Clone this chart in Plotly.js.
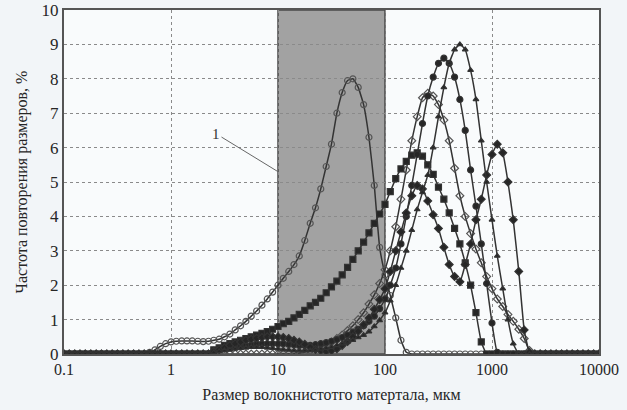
<!DOCTYPE html>
<html>
<head>
<meta charset="utf-8">
<script src="https://cdn.plot.ly/plotly-3.0.1.min.js"></script>
<style>
html,body{margin:0;padding:0;background:#f2f5f8;}
#chart{width:627px;height:410px;}
</style>
</head>
<body>
<div id="chart"></div>
<script>
// particle size, µm (20 points per decade, 0.1 .. 10000)
const sizes = [
  0.1,0.112,0.126,0.141,0.158,0.178,0.2,0.224,0.251,0.282,0.316,0.355,0.398,0.447,0.501,0.562,0.631,0.708,0.794,0.891,
  1,1.12,1.26,1.41,1.58,1.78,2,2.24,2.51,2.82,3.16,3.55,3.98,4.47,5.01,5.62,6.31,7.08,7.94,8.91,
  10,11.2,12.6,14.1,15.8,17.8,20,22.4,25.1,28.2,31.6,35.5,39.8,44.7,50.1,56.2,63.1,70.8,79.4,89.1,
  100,112,126,141,158,178,200,224,251,282,316,355,398,447,501,562,631,708,794,891,
  1000,1120,1260,1410,1580,1780,2000,2240,2510,2820,3160,3550,3980,4470,5010,5620,6310,7080,7940,8910,10000];

// frequency, % (curve "1" = open circles)
const curve1 = [
  0,0,0,0,0,0,0,0,0,0,0,0,0,0,0,0,0.05,0.12,0.22,0.3,
  0.35,0.37,0.38,0.38,0.38,0.37,0.36,0.37,0.4,0.43,0.5,0.58,0.7,0.82,0.95,1.1,1.25,1.42,1.6,1.8,
  2.0,2.2,2.4,2.6,2.85,3.3,3.8,4.25,4.8,5.45,6.1,7.0,7.6,7.95,8.0,7.75,7.25,6.3,4.9,3.1,
  2.3,1.7,1.05,0.4,0.05,0,0,0,0,0,0,0,0,0,0,0,0,0,0,0,
  0,0,0,0,0,0,0,0,0,0,0,0,0,0,0,0,0,0,0,0,0];
const curveSquares = [
  0,0,0,0,0,0,0,0,0,0,0,0,0,0,0,0,0,0,0,0,
  0,0,0,0,0,0,0,0,0.12,0.18,0.25,0.3,0.35,0.4,0.45,0.5,0.55,0.6,0.65,0.72,
  0.8,0.88,0.95,1.05,1.15,1.27,1.4,1.5,1.62,1.78,1.95,2.12,2.3,2.52,2.75,3.0,3.25,3.52,3.8,4.07,
  4.35,4.72,5.1,5.38,5.6,5.78,5.85,5.75,5.5,5.22,4.85,4.5,4.1,3.65,3.2,2.65,2.0,1.2,0.35,0,
  0,0,0,0,0,0,0,0,0,0,0,0,0,0,0,0,0,0,0,0,0];
const curveOpenDiamonds = [
  0,0,0,0,0,0,0,0,0,0,0,0,0,0,0,0,0,0,0,0,
  0,0,0,0,0,0,0,0,0,0,0,0,0,0,0,0,0,0,0,0,
  0,0,0,0,0.03,0.06,0.1,0.15,0.2,0.27,0.35,0.45,0.55,0.68,0.82,1.0,1.2,1.45,1.72,2.05,
  2.45,3.0,3.7,4.5,5.35,6.2,6.9,7.45,7.58,7.5,7.25,6.8,6.2,5.4,4.6,4.0,3.5,3.05,2.65,2.25,
  1.9,1.6,1.38,1.15,0.95,0.72,0.45,0.1,0,0,0,0,0,0,0,0,0,0,0,0,0];
const curveCircles = [
  0,0,0,0,0,0,0,0,0,0,0,0,0,0,0,0,0,0,0,0,
  0,0,0,0,0,0,0,0,0.08,0.12,0.15,0.18,0.2,0.23,0.25,0.27,0.3,0.3,0.3,0.3,
  0.3,0.3,0.28,0.27,0.25,0.25,0.25,0.27,0.3,0.33,0.37,0.42,0.48,0.55,0.63,0.72,0.82,0.95,1.1,1.32,
  1.6,2.0,2.5,3.2,4.0,4.9,5.8,6.7,7.5,8.05,8.45,8.6,8.45,8.05,7.4,6.5,5.35,4.3,3.2,2.05,
  0.9,0.05,0,0,0,0,0,0,0,0,0,0,0,0,0,0,0,0,0,0,0];
const curveDiamonds = [
  0,0,0,0,0,0,0,0,0,0,0,0,0,0,0,0,0,0,0,0,
  0,0,0,0,0,0,0,0,0.08,0.13,0.18,0.25,0.3,0.35,0.4,0.43,0.46,0.48,0.5,0.5,
  0.5,0.48,0.45,0.4,0.35,0.28,0.2,0.13,0.1,0.08,0.1,0.15,0.25,0.36,0.5,0.66,0.85,1.05,1.3,1.58,
  1.9,2.4,3.0,3.55,4.1,4.6,4.9,4.8,4.45,4.05,3.65,3.1,2.6,2.25,2.1,2.6,3.2,3.9,4.5,5.2,
  5.8,6.1,5.85,5.0,3.9,2.4,0.7,0.05,0,0,0,0,0,0,0,0,0,0,0,0,0];
const curveTriangles = [
  0,0,0,0,0,0,0,0,0,0,0,0,0,0,0,0,0,0,0,0,
  0,0,0,0,0,0,0,0,0.05,0.08,0.1,0.12,0.15,0.17,0.18,0.2,0.2,0.2,0.18,0.17,
  0.15,0.13,0.12,0.1,0.1,0.1,0.1,0.12,0.15,0.17,0.2,0.25,0.3,0.35,0.4,0.48,0.55,0.65,0.8,0.98,
  1.2,1.55,2.0,2.5,3.0,3.6,4.2,4.7,5.2,6.0,6.9,7.75,8.45,8.85,9.0,8.85,8.25,7.4,6.2,5.0,
  3.9,2.85,1.9,1.0,0.3,0,0,0,0,0,0,0,0,0,0,0,0,0,0,0,0];

const xTicks = [0.1,1,10,100,1000,10000];
const xTickText = ['0.1','1','10','100','1000','10000'];
const yTicks = [0,1,2,3,4,5,6,7,8,9,10];
const bandRange = [10,100];

const lineCol = '#333333';
function tr(y, sym, size, col){
  return {x:sizes, y:y, type:'scatter', mode:'lines+markers',
    line:{color:lineCol, width:1.5, shape:'spline', smoothing:0.4},
    marker:{symbol:sym, size:size, color:col, line:{color:'#333', width:1.2}},
    showlegend:false, hoverinfo:'skip'};
}
const data = [
  tr(curve1,'circle-open',6,'#555'),
  tr(curveOpenDiamonds,'diamond-open',6,'#555'),
  tr(curveSquares,'square',6,'#262626'),
  tr(curveCircles,'circle',6,'#262626'),
  tr(curveDiamonds,'diamond',6,'#262626'),
  tr(curveTriangles,'triangle-up',5,'#262626')
];

const serif = 'Liberation Serif, Times New Roman, serif';
const layout = {
  width:627, height:410,
  margin:{l:64, r:28, t:10, b:56},
  paper_bgcolor:'#f2f5f8', plot_bgcolor:'#f9fbfc',
  font:{family:serif, color:'#262626', size:15},
  xaxis:{type:'log', range:[-1,4], tickvals:xTicks, ticktext:xTickText,
    showgrid:true, gridcolor:'#8a8a8a', griddash:'dot', gridwidth:1,
    showline:true, linecolor:'#555', linewidth:2, mirror:true,
    ticks:'', zeroline:false, tickfont:{size:16, family:serif},
    title:{text:'Размер волокнистотго матертала, мкм', font:{size:16, family:serif}, standoff:12}},
  yaxis:{range:[0,10], tickvals:yTicks, showgrid:true, gridcolor:'#8a8a8a', griddash:'dot', gridwidth:1,
    showline:true, linecolor:'#555', linewidth:2, mirror:true,
    ticks:'', zeroline:false, tickfont:{size:17, family:serif},
    title:{text:'Частота повторения размеров, %', font:{size:16, family:serif}, standoff:10}},
  shapes:[{type:'rect', xref:'x', yref:'paper', x0:bandRange[0], x1:bandRange[1],
    y0:0, y1:1, fillcolor:'#a2a2a2', line:{color:'#4a4a4a', width:1.5}, layer:'below'}],
  annotations:[{x:Math.log10(bandRange[0]), y:5.3, xref:'x', yref:'y', text:'1', showarrow:true,
    arrowhead:0, arrowwidth:1, arrowcolor:'#666', ax:-62, ay:-38, font:{size:15, family:serif, color:'#333'}}]
};
Plotly.newPlot('chart', data, layout, {staticPlot:true});
</script>
</body>
</html>
